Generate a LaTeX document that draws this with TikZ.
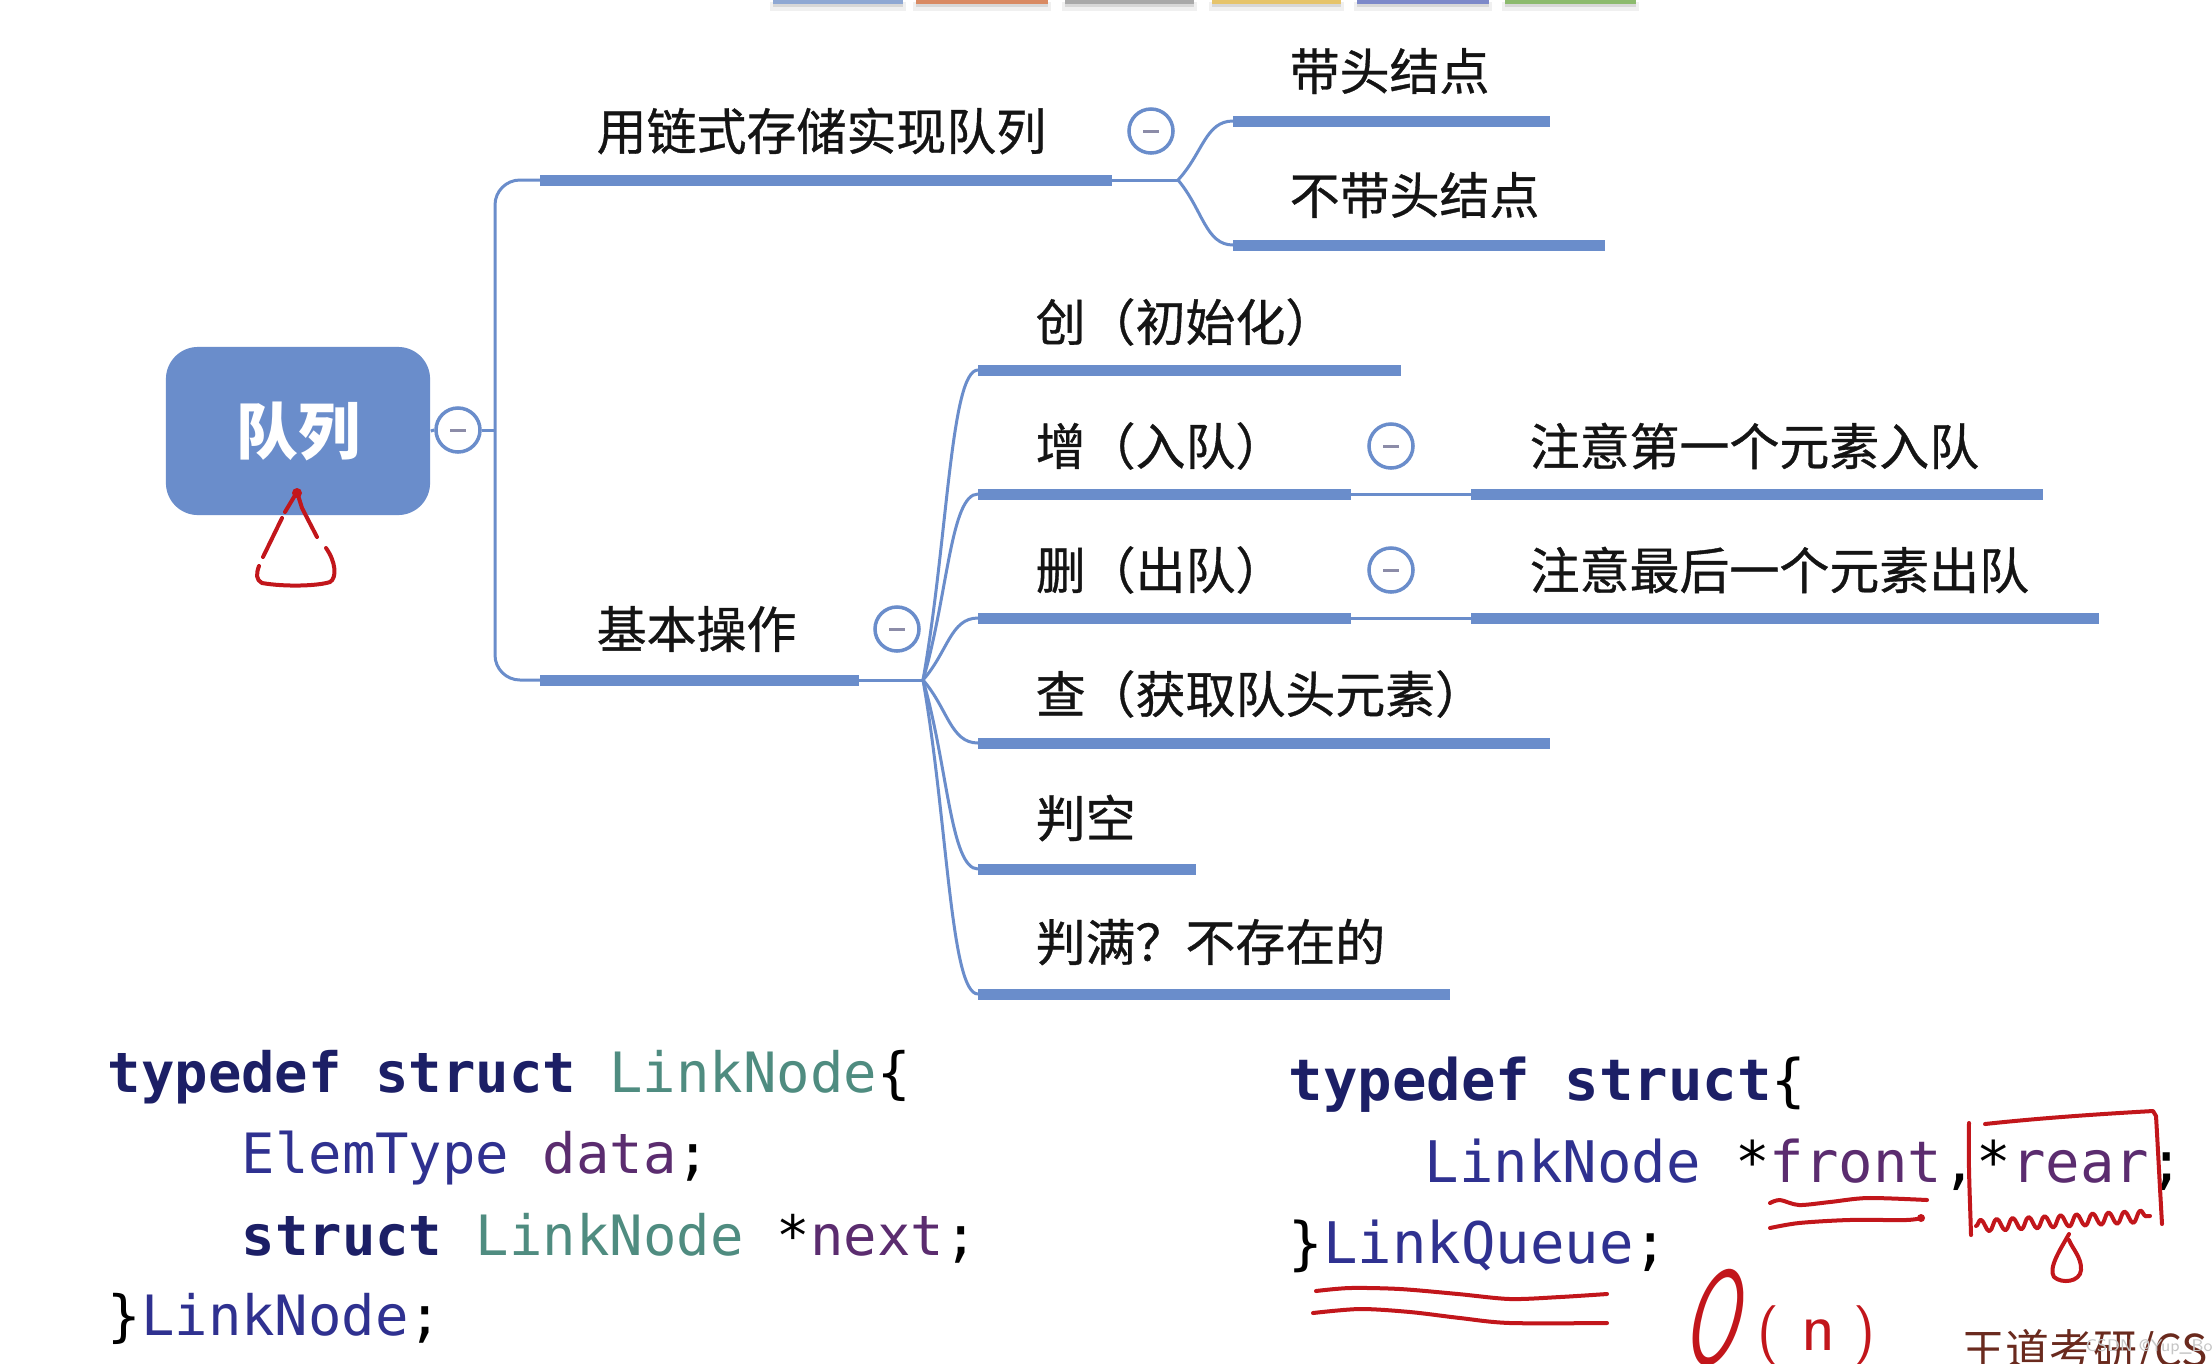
\documentclass[tikz,border=0pt]{standalone}
\usepackage{fontspec}
\setmonofont{DejaVu Sans Mono}
\newfontfamily\cjk{Noto Sans CJK SC}[FakeBold=0.7]
\newfontfamily\cjkplain{Noto Sans CJK SC}
\usetikzlibrary{calc,decorations.pathmorphing}
\definecolor{mapblue}{HTML}{6A8DCB}
\definecolor{foldgray}{HTML}{8C8CA8}
\definecolor{inkred}{HTML}{C2161B}
\definecolor{kwnavy}{HTML}{1C1F66}
\definecolor{tealtype}{HTML}{4F8C80}
\definecolor{navytype}{HTML}{2F3190}
\definecolor{varpurple}{HTML}{5B2C6F}
\definecolor{wdbrown}{HTML}{6A2A1E}
\definecolor{tabblue}{HTML}{8FA8D3}
\definecolor{taborange}{HTML}{D98A63}
\definecolor{tabgray}{HTML}{A9A9A9}
\definecolor{tabyellow}{HTML}{E6C46B}
\definecolor{tabindigo}{HTML}{7D89C9}
\definecolor{tabgreen}{HTML}{8CBA6D}
\tikzset{
  bar/.style={mapblue, line width=0.11cm},
  link/.style={mapblue, line width=0.03cm},
  topic/.style={anchor=west, inner sep=0pt, text=black!92,
    font=\cjk\fontsize{14.2pt}{17pt}\selectfont},
  fold/.style={circle, draw=mapblue, line width=0.035cm, fill=white,
    minimum size=0.44cm, inner sep=0pt,
    path picture={\draw[foldgray, line width=0.03cm]
      ([xshift=-0.08cm]path picture bounding box.center) --
      ([xshift=0.08cm]path picture bounding box.center);}},
  rootbox/.style={fill=mapblue, rounded corners=0.32cm, minimum width=2.64cm,
    minimum height=1.68cm, text=white,
    font=\cjkplain\bfseries\fontsize{17.6pt}{20pt}\selectfont},
  code/.style={anchor=base west, inner sep=0pt,
    font=\ttfamily\fontsize{15.8pt}{18pt}\selectfont},
  coderight/.style={code, font=\ttfamily\fontsize{16.3pt}{18pt}\selectfont},
  inkpen/.style={inkred, line width=0.04cm, line cap=round, line join=round},
}
\newcommand{\kw}[1]{{\bfseries\color{kwnavy}#1}}
\newcommand{\tyteal}[1]{{\color{tealtype}#1}}
\newcommand{\tynavy}[1]{{\color{navytype}#1}}
\newcommand{\va}[1]{{\color{varpurple}#1}}
\newcommand{\forkto}[2]{\draw[link] (#1) .. controls ($(#1)!0.45!(#2)$) and ($(#1 |- #2)!0.5!(#2)$) .. (#2);}
\begin{document}
\begin{tikzpicture}[x=0.01cm, y=-0.01cm]
\useasboundingbox (0,0) rectangle (2212,1363);
\clip (0,0) rectangle (2212,1363);
\fill[white] (0,0) rectangle (2212,1363);

% theme tabs at the top
\foreach \xa/\xb/\col in {773/903/tabblue, 916/1048/taborange, 1065/1194/tabgray,
  1212/1341/tabyellow, 1357/1489/tabindigo, 1505/1636/tabgreen}{
  \fill[black, opacity=0.06] (\xa-3,2) rectangle (\xb+3,11);
  \fill[black, opacity=0.10] (\xa,3) rectangle (\xb,7);
  \fill[\col] (\xa,0) rectangle (\xb,3.5);
}

% root
\node[rootbox] (root) at (298,431) {队列};
\node[fold] (f0) at (458,430) {};
\coordinate (spine) at (495,430);
\draw[link] (root.east) -- (f0.west);
\draw[link] (f0.east) -- (spine);

% branch 1
\coordinate (b1s) at (540,180);
\coordinate (b1e) at (1112,180);
\coordinate (k1) at (1178,180);
\draw[bar] (b1s) -- (b1e);
\node[topic] (t1) at (596,131) {用链式存储实现队列};
\node[fold] (f1) at (1151,131) {};
\draw[link] (b1e) -- (k1);
\coordinate (c11s) at (1233,121);
\coordinate (c11e) at (1550,121);
\coordinate (c12s) at (1233,245);
\coordinate (c12e) at (1605,245);
\draw[bar] (c11s) -- (c11e);
\draw[bar] (c12s) -- (c12e);
\node[topic] (t11) at (1289,71) {带头结点};
\node[topic] (t12) at (1289,195) {不带头结点};
\forkto{k1}{c11s}
\forkto{k1}{c12s}

% branch 2
\coordinate (b2s) at (540,680);
\coordinate (b2e) at (859,680);
\coordinate (k2) at (923,680);
\draw[bar] (b2s) -- (b2e);
\node[topic] (t2) at (596,629) {基本操作};
\node[fold] (f2) at (897,629) {};
\draw[link] (b2e) -- (k2);
\draw[link, rounded corners=0.25cm] (b1s) -| (spine) |- (b2s);

\coordinate (c21s) at (978,370);  \coordinate (c21e) at (1401,370);
\coordinate (c22s) at (978,494);  \coordinate (c22e) at (1351,494);
\coordinate (c23s) at (978,618);  \coordinate (c23e) at (1351,618);
\coordinate (c24s) at (978,743);  \coordinate (c24e) at (1550,743);
\coordinate (c25s) at (978,869);  \coordinate (c25e) at (1196,869);
\coordinate (c26s) at (978,994);  \coordinate (c26e) at (1450,994);
\foreach \n in {21,22,23,24,25,26}{
  \draw[bar] (c\n s) -- (c\n e);
  \forkto{k2}{c\n s}
}
\node[topic] (t21) at (1035,322) {创（初始化）};
\node[topic] (t22) at (1035,446) {增（入队）};
\node[topic] (t23) at (1035,570) {删（出队）};
\node[topic] (t24) at (1035,694) {查（获取队头元素）};
\node[topic] (t25) at (1035,818) {判空};
\node[topic] (t26) at (1035,942) {判满？不存在的};
\node[fold] (f22) at (1391,446) {};
\node[fold] (f23) at (1391,570) {};

\coordinate (g22s) at (1471,494);  \coordinate (g22e) at (2043,494);
\coordinate (g23s) at (1471,618);  \coordinate (g23e) at (2099,618);
\draw[link] (c22e) -- (g22s);
\draw[link] (c23e) -- (g23s);
\draw[bar] (g22s) -- (g22e);
\draw[bar] (g23s) -- (g23e);
\node[topic] (t221) at (1529,446) {注意第一个元素入队};
\node[topic] (t231) at (1529,570) {注意最后一个元素出队};

% code
\node[code] (l1) at (107,1092) {\kw{typedef struct} \tyteal{LinkNode}\{};
\node[code] (l2) at (241,1173) {\tynavy{ElemType} \va{data};};
\node[code] (l3) at (241,1255) {\kw{struct} \tyteal{LinkNode} *\va{next};};
\node[code] (l4) at (107,1335) {\}\tynavy{LinkNode};};
\node[coderight] (r1) at (1288,1100) {\kw{typedef struct}\{};
\node[coderight] (r2) at (1424,1182) {\tynavy{LinkNode} *\va{front},*\va{rear};};
\node[coderight] (r3) at (1288,1263) {\}\tynavy{LinkQueue};};

% handwriting
\fill[inkred] (297,493) circle[radius=0.05cm];
\draw[inkpen] (297,492) -- (285,512);
\draw[inkpen] (282,518) -- (263,557);
\draw[inkpen] (259,566) .. controls (256,574) and (256,580) .. (262,583)
  .. controls (285,587) and (318,586) .. (330,582)
  .. controls (337,578) and (336,562) .. (326,548);
\draw[inkpen] (317,537) -- (302,508) -- (297,492);

\draw[inkpen] plot[smooth] coordinates {(1770,1203) (1780,1200) (1799,1205) (1830,1202) (1868,1198) (1927,1200)};
\draw[inkpen] plot[smooth] coordinates {(1770,1228) (1799,1223) (1849,1220) (1906,1220) (1921,1218)};
\fill[inkred] (1921,1218) circle[radius=0.04cm];

\draw[inkpen] (1969,1123) .. controls (1968,1160) and (1970,1200) .. (1971,1235);
\draw[inkpen] (1985,1124) .. controls (2040,1118) and (2100,1114) .. (2153,1111)
  -- (2156,1116) .. controls (2158,1150) and (2160,1190) .. (2162,1224);
\draw[inkpen, decorate, decoration={snake, amplitude=0.06cm, segment length=0.16cm}]
  (1976,1226) -- (2150,1216);
\draw[inkpen] (2069,1234) .. controls (2060,1250) and (2048,1268) .. (2054,1277)
  .. controls (2062,1284) and (2080,1282) .. (2081,1270)
  .. controls (2082,1258) and (2072,1248) .. (2069,1240);

\draw[inkpen] plot[smooth] coordinates {(1316,1291) (1350,1288) (1400,1289) (1458,1294) (1510,1299) (1560,1297) (1607,1294)};
\draw[inkpen] plot[smooth] coordinates {(1313,1313) (1360,1309) (1410,1312) (1460,1318) (1510,1323) (1607,1323)};

\node[anchor=base west, inner sep=0pt, text=inkred, rotate=-8,
  font=\sffamily\slshape\fontsize{39pt}{42pt}\selectfont] (bigo) at (1680,1360) {\scalebox{0.55}[1]{O}};
\node[anchor=base west, inner sep=0pt, text=inkred,
  font=\sffamily\fontsize{17pt}{19pt}\selectfont] (bign) at (1757,1350)
  {(\hspace{0.22cm}{\fontsize{20pt}{22pt}\selectfont n}\hspace{0.18cm})};

% watermark
\node[anchor=base west, inner sep=0pt, text=wdbrown,
  font=\cjkplain\fontsize{12.5pt}{14pt}\selectfont] (wd) at (1961,1366) {王道考研/CS};
\node[anchor=west, inner sep=0pt, text=gray!45,
  font=\sffamily\fontsize{4.8pt}{6pt}\selectfont] (csdn) at (2085,1347) {CSDN @Yup\_Boss};
\end{tikzpicture}
\end{document}
